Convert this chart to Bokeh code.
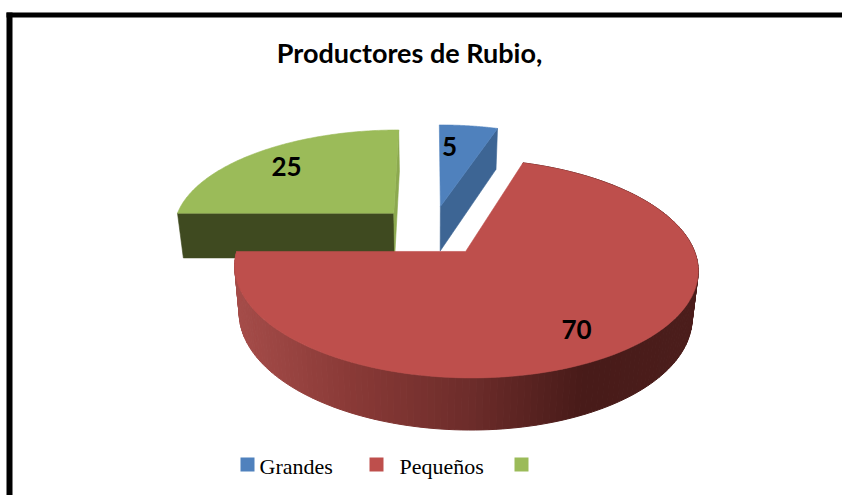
import numpy as np
from bokeh.plotting import figure
from bokeh.models import Range1d
from bokeh.core.properties import value
from bokeh.embed import file_html
from bokeh.resources import INLINE

TITLE = "Productores de Rubio,"
categories = ["Grandes", "Pequeños", ""]
values = [5, 70, 25]
top_colors = ["#4F81BD", "#BE4F4C", "#9BBB59"]
cut_colors = ["#3D6594", "#8E3A38", "#3F4A20"]
back_cut_color = "#8CA94F"

# projection of the tilted pie
CX, CY, B, A, K, H, SHRINK, EXPLODE = 431.5, 230.0, 222.0, 100.5, 0.15, 45.5, 0.023, 0.25


def proj(U, V, z=0.0):
    s = 1 + K * V
    t = 1 - SHRINK * z
    return CX + B * t * U / s, CY + (-A * t * V + H * z) / s


p = figure(width=842, height=495, x_range=Range1d(0, 842), y_range=Range1d(495, 0),
           x_axis_type=None, y_axis_type=None, toolbar_location=None,
           output_backend="svg", min_border=0, outline_line_color=None,
           background_fill_color="white", border_fill_color="white")
p.grid.visible = False

# frame
p.quad(left=[6], right=[12], top=[12], bottom=[495], fill_color="black", line_color=None)
p.quad(left=[6], right=[842], top=[12], bottom=[17], fill_color="black", line_color=None)

total = sum(values)
fracs = np.cumsum([0] + values) / total * 2 * np.pi
slices = {}
for i, v in enumerate(values):
    a0, a1 = fracs[i], fracs[i + 1]
    mid = (a0 + a1) / 2
    slices[i] = (a0, a1, EXPLODE * np.sin(mid), EXPLODE * np.cos(mid))


def arc(i, n=120):
    a0, a1, ox, oy = slices[i]
    t = np.linspace(a0, a1, n)
    return ox + np.sin(t), oy + np.cos(t)


def patch(x, y, color, lw=0.6):
    p.patch(list(x), list(y), fill_color=color, line_color=color, line_width=lw)


def draw_cut(i, ang, color):
    a0, a1, ox, oy = slices[i]
    U = np.array([ox, ox + np.sin(ang), ox + np.sin(ang), ox])
    V = np.array([oy, oy + np.cos(ang), oy + np.cos(ang), oy])
    z = np.array([0, 0, 1, 1])
    x, y = proj(U, V, z)
    patch(x, y, color)


def draw_top(i):
    a0, a1, ox, oy = slices[i]
    au, av = arc(i)
    U = np.concatenate([[ox], au])
    V = np.concatenate([[oy], av])
    x, y = proj(U, V)
    patch(x, y, top_colors[i])


# green slice, the one at the back left
draw_cut(2, slices[2][0], cut_colors[2])
draw_cut(2, slices[2][1], back_cut_color)
draw_top(2)

# blue slice
draw_cut(0, slices[0][1], cut_colors[0])
draw_top(0)

# red slice: shaded outer wall, then its top
stops_x = [0.0, 0.25, 0.5, 0.75, 1.0]
stops_c = [(166, 77, 74), (138, 58, 55), (110, 45, 43), (72, 27, 25), (76, 30, 28)]
a0, a1, ox, oy = slices[1]
edges = np.linspace(a0, a1, 170)
xs_all = proj(ox + np.sin(edges), oy + np.cos(edges))[0]
xmin, xmax = xs_all.min(), xs_all.max()
for e0, e1 in zip(edges[:-1], edges[1:]):
    U = ox + np.sin([e0, e1, e1, e0])
    V = oy + np.cos([e0, e1, e1, e0])
    x, y = proj(U, V, np.array([0, 0, 1, 1]))
    f = (x.mean() - xmin) / (xmax - xmin)
    c = [int(np.interp(f, stops_x, [s[j] for s in stops_c])) for j in range(3)]
    hexc = "#%02X%02X%02X" % tuple(c)
    patch(x, y, hexc, lw=1)
draw_top(1)

# title
p.text(x=[409], y=[52], text=[TITLE], text_font=value("Lato"), text_font_style="bold",
       text_font_size="27px", text_align="center", text_baseline="middle", text_color="black")

# value labels
lab_x = [449, 576, 286]
lab_y = [146, 329, 166]
p.text(x=lab_x, y=lab_y, text=[str(v) for v in values], text_font=value("Lato"),
       text_font_style="bold", text_font_size="26px", text_align="center",
       text_baseline="middle", text_color="black")

# legend
swatch_x = [240, 369, 514]
text_x = [259, 399, 534]
p.quad(left=swatch_x, right=[s + 14 for s in swatch_x], top=[457] * 3, bottom=[471] * 3,
       fill_color=top_colors, line_color=None)
p.text(x=text_x, y=[466] * 3, text=categories, text_font=value("Liberation Serif"),
       text_font_size="22px", text_align="left", text_baseline="middle", text_color="black")

open("out.html", "w").write(file_html(p, INLINE))
